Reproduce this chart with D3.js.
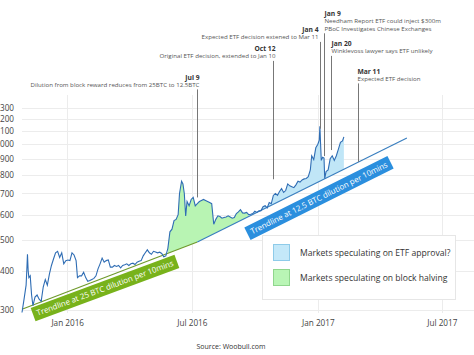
<!DOCTYPE html>
<meta charset="utf-8">
<style>
body { margin: 0; background: #fff; font-family: "Open Sans", sans-serif; }
.grid line { stroke: #ececec; stroke-width: 1; shape-rendering: crispEdges; }
.grid path { display: none; }
.grid text { font-size: 8.2px; fill: #444; font-family: "Open Sans", sans-serif; }
.ann-title { font-size: 6.7px; font-weight: bold; fill: #333; }
.ann-note { font-size: 6.15px; fill: #555; }
.legend text { font-size: 8.6px; fill: #333; }
</style>
<body>
<div id="chart"></div>
<script src="https://d3js.org/d3.v7.min.js"></script>
<script>

// bitcoin price (USD)
var priceDates = ["2015-10-27","2015-10-30","2015-11-02","2015-11-03","2015-11-04","2015-11-05","2015-11-06","2015-11-08","2015-11-10","2015-11-12",
  "2015-11-15","2015-11-18","2015-11-21","2015-11-24","2015-11-27","2015-11-30","2015-12-03","2015-12-06","2015-12-09","2015-12-12",
  "2015-12-15","2015-12-18","2015-12-21","2015-12-24","2015-12-27","2015-12-30","2016-01-02","2016-01-05","2016-01-08","2016-01-11",
  "2016-01-14","2016-01-16","2016-01-19","2016-01-22","2016-01-25","2016-01-28","2016-01-31","2016-02-03","2016-02-06","2016-02-09",
  "2016-02-12","2016-02-15","2016-02-18","2016-02-21","2016-02-24","2016-02-27","2016-03-01","2016-03-04","2016-03-07","2016-03-10",
  "2016-03-13","2016-03-16","2016-03-19","2016-03-22","2016-03-25","2016-03-28","2016-03-31","2016-04-03","2016-04-06","2016-04-09",
  "2016-04-12","2016-04-15","2016-04-18","2016-04-21","2016-04-24","2016-04-27","2016-04-30","2016-05-03","2016-05-06","2016-05-09",
  "2016-05-12","2016-05-15","2016-05-18","2016-05-21","2016-05-24","2016-05-27","2016-05-30","2016-06-02","2016-06-05","2016-06-08",
  "2016-06-11","2016-06-13","2016-06-16","2016-06-18","2016-06-20","2016-06-22","2016-06-24","2016-06-27","2016-06-30","2016-07-03",
  "2016-07-06","2016-07-09","2016-07-12","2016-07-15","2016-07-18","2016-07-21","2016-07-24","2016-07-27","2016-07-30","2016-08-02",
  "2016-08-05","2016-08-08","2016-08-11","2016-08-14","2016-08-17","2016-08-20","2016-08-23","2016-08-26","2016-08-29","2016-09-01",
  "2016-09-04","2016-09-07","2016-09-10","2016-09-13","2016-09-16","2016-09-19","2016-09-22","2016-09-25","2016-09-28","2016-10-01",
  "2016-10-04","2016-10-07","2016-10-10","2016-10-13","2016-10-16","2016-10-19","2016-10-22","2016-10-25","2016-10-28","2016-10-31",
  "2016-11-03","2016-11-06","2016-11-09","2016-11-12","2016-11-15","2016-11-18","2016-11-21","2016-11-24","2016-11-27","2016-11-30",
  "2016-12-03","2016-12-06","2016-12-09","2016-12-12","2016-12-15","2016-12-18","2016-12-21","2016-12-23","2016-12-26","2016-12-29",
  "2017-01-01","2017-01-03","2017-01-04","2017-01-05","2017-01-06","2017-01-08","2017-01-10","2017-01-11","2017-01-13","2017-01-16",
  "2017-01-19","2017-01-22","2017-01-25","2017-01-28","2017-01-31","2017-02-03","2017-02-06","2017-02-08"];
var prices = [295,325,360,400,450,400,380,385,335,310,
  330,335,325,320,355,375,360,390,415,435,
  455,460,440,455,420,430,432,430,455,448,
  430,380,385,385,395,380,370,372,375,378,
  385,405,420,438,425,430,432,410,410,415,
  412,415,408,415,417,420,415,420,422,418,
  425,428,430,445,455,465,455,450,460,458,
  455,457,453,442,445,470,530,540,575,580,
  600,700,765,750,700,595,660,640,670,680,
  640,650,660,665,670,665,660,655,650,560,
  580,595,592,585,588,590,595,590,585,588,
  605,612,622,608,607,610,600,602,605,615,
  610,617,618,636,641,630,655,650,690,700,
  690,710,725,705,715,750,740,735,730,745,
  765,760,772,778,780,790,830,920,895,975,
  1000,1030,1140,1000,890,910,905,780,820,830,
  900,920,890,920,965,1015,1025,1055];

// trendline (block reward 25 BTC, then 12.5 BTC after the halving)
var trendDates = ["2015-10-27","2016-07-09","2017-05-11"];
var trendValues = [302,492,1047];

// shaded periods
var halvingPeriod = ["2016-05-27","2016-09-22"];
var etfPeriod = ["2016-09-22","2017-02-08"];

var yTicks = [300,400,500,600,700,800,900,1000,1100,1200,1300];
var xTicks = ["2016-01-01","2016-07-01","2017-01-01","2017-07-01"];

var annDates = ["2016-07-09","2016-10-28","2017-01-04","2017-01-10","2017-01-20","2017-02-28"];
var annTitles = ["Jul 9","Oct 12","Jan 4","Jan 9","Jan 20","Mar 11"];
var annNotes = [["Dilution from block reward reduces from 25BTC to 12.5BTC"],
  ["Original ETF decision, extended to Jan 10"],
  ["Expected ETF decision extened to Mar 11"],
  ["Needham Report ETF could inject $300m","PBoC Investigates Chinese Exchanges"],
  ["Winklevoss lawyer says ETF unlikely"],
  ["Expected ETF decision"]];
var annValues = [680,776,1120,918,959,880];

var legendLabels = ["Markets speculating on ETF approval?","Markets speculating on block halving"];

var parse = d3.timeParse("%Y-%m-%d");
var width = 474, height = 355;
var plotL = 22, plotR = 474, plotT = 95, plotB = 313;

var svg = d3.select("#chart").append("svg")
  .attr("width", width)
  .attr("height", height);

var x = d3.scaleTime()
  .domain([parse("2015-10-27"), parse("2017-08-17")])
  .range([plotL, plotR]);
var y = d3.scaleLog()
  .domain([294, 1430])
  .range([plotB, plotT]);

// grid + axes
svg.append("g")
  .attr("class", "grid")
  .attr("transform", `translate(${plotL},0)`)
  .call(d3.axisLeft(y).tickValues(yTicks).tickFormat(d3.format("d"))
    .tickSize(-(plotR - plotL)).tickPadding(8));

svg.append("g")
  .attr("class", "grid")
  .attr("transform", `translate(0,${plotB})`)
  .call(d3.axisBottom(x).tickValues(xTicks.map(parse)).tickFormat(d3.timeFormat("%b %Y"))
    .tickSize(-(plotB - plotT)).tickPadding(7));

var data = priceDates.map((d, i) => ({date: parse(d), price: prices[i]}));

// trendline pixel height at a date
var trendY = d3.scaleTime()
  .domain(trendDates.map(parse))
  .range(trendValues.map(v => y(v)));

function shade(period, color) {
  var a = parse(period[0]), b = parse(period[1]);
  var pts = data.filter(d => d.date >= a && d.date <= b);
  var area = d3.area()
    .x(d => x(d.date))
    .y0(d => trendY(d.date))
    .y1(d => Math.min(y(d.price), trendY(d.date)));
  svg.append("path")
    .datum(pts)
    .attr("d", area)
    .style("fill", color)
    .style("stroke", "none");
}
shade(halvingPeriod, "#b8f4b3");
shade(etfPeriod, "#c0e6f7");

// trendline, two segments
var tline = d3.line().x(d => x(d.date)).y(d => y(d.v));
var tpts = trendDates.map((d, i) => ({date: parse(d), v: trendValues[i]}));
svg.append("path").datum(tpts.slice(0, 2)).attr("d", tline)
  .style("fill", "none").style("stroke", "#6f9a2c").style("stroke-width", 1.2);
svg.append("path").datum(tpts.slice(1)).attr("d", tline)
  .style("fill", "none").style("stroke", "#3a7fbf").style("stroke-width", 1.2);

// price line
svg.append("path")
  .datum(data)
  .attr("d", d3.line().x(d => x(d.date)).y(d => y(d.price)))
  .style("fill", "none")
  .style("stroke", "#2f6db4")
  .style("stroke-width", 1.1);

// trendline labels
function trendLabel(txt, cx, cy, angle, color) {
  var g = svg.append("g").attr("transform", `translate(${cx},${cy}) rotate(${angle})`);
  var r = g.append("rect");
  var t = g.append("text")
    .attr("text-anchor", "middle")
    .attr("dy", "0.35em")
    .style("font-size", "7.9px")
    .style("fill", "#fff")
    .text(txt);
  var w = t.node().getComputedTextLength();
  r.attr("x", -w / 2 - 4).attr("y", -7).attr("width", w + 8).attr("height", 14)
    .style("fill", color);
}
trendLabel("Trendline at 25 BTC dilution per 10mins", 105, 288, -20.3, "#78b21b");
trendLabel("Trendline at 12.5 BTC dilution per 10mins", 319, 198, -26.5, "#2b8fde");

// annotations
var annLayout = [
  {base: 79.5, anchor: "end", dx: 2},
  {base: 51, anchor: "end", dx: 2},
  {base: 32, anchor: "end", dx: -2},
  {base: 16, anchor: "start", dx: 0},
  {base: 46, anchor: "start", dx: 0},
  {base: 73.5, anchor: "start", dx: -1}
];
annDates.forEach(function(d, i) {
  var lx = Math.round(x(parse(d))) + 0.5;
  var L = annLayout[i];
  var tx = lx + L.dx;
  svg.append("text").attr("class", "ann-title")
    .attr("x", tx).attr("y", L.base)
    .attr("text-anchor", L.anchor)
    .text(annTitles[i]);
  var yy = L.base;
  annNotes[i].forEach(function(n) {
    yy += 7.4;
    svg.append("text").attr("class", "ann-note")
      .attr("x", tx).attr("y", yy)
      .attr("text-anchor", L.anchor)
      .text(n);
  });
  svg.append("line")
    .attr("x1", lx).attr("x2", lx)
    .attr("y1", yy + 2.5).attr("y2", y(annValues[i]))
    .style("stroke", "#777").style("stroke-width", 1);
});

// legend
var legend = svg.append("g").attr("class", "legend");
legend.append("rect")
  .attr("x", 262.5).attr("y", 235.5).attr("width", 193).attr("height", 64)
  .style("fill", "#fff").style("stroke", "#e6e6e6");
var swatch = [["#c4e8f9", "#8ecbe9"], ["#b9f5b5", "#90d68d"]];
legendLabels.forEach(function(l, i) {
  legend.append("rect")
    .attr("x", 273.5).attr("y", 244.5 + i * 25).attr("width", 16).attr("height", 16)
    .style("fill", swatch[i][0]).style("stroke", swatch[i][1]);
  legend.append("text")
    .attr("x", 300).attr("y", 253 + i * 25).attr("dy", "0.35em")
    .text(l);
});

svg.append("text")
  .attr("x", 231).attr("y", 347).attr("dy", "0.35em")
  .attr("text-anchor", "middle")
  .style("font-size", "7px").style("fill", "#333")
  .text("Source: Woobull.com");

</script>
</body>
